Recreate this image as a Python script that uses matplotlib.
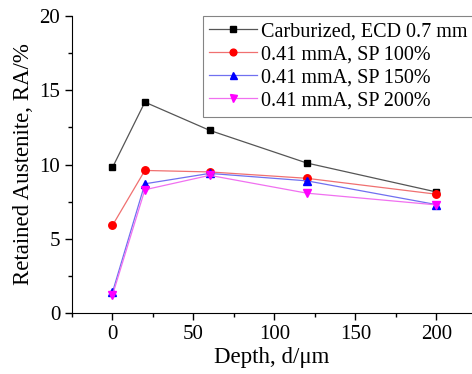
import matplotlib.pyplot as plt
from matplotlib.ticker import MultipleLocator

plt.rcParams['font.family'] = ['Liberation Serif', 'DejaVu Serif']

# depth (um) and retained austenite (%)
depth = [0, 20, 60, 120, 200]
carburized = [9.8, 14.2, 12.3, 10.1, 8.15]
sp100 = [5.9, 9.6, 9.5, 9.07, 8.0]
sp150 = [1.4, 8.7, 9.4, 8.9, 7.3]
sp200 = [1.2, 8.3, 9.27, 8.07, 7.28]
labels = ["Carburized, ECD 0.7 mm", "0.41 mmA, SP 100%",
          "0.41 mmA, SP 150%", "0.41 mmA, SP 200%"]

fig = plt.figure(figsize=(4.72, 3.74), dpi=100)
ax = fig.add_axes([72/472, 1-313/374, (472-72)/472, (313-16)/374])

ax.plot(depth, carburized, color='#555555', lw=0.9, marker='s', ms=4.6,
        mfc='black', mec='black', label=labels[0])
ax.plot(depth, sp100, color='#f07070', lw=0.9, marker='o', ms=5.4,
        mfc='red', mec='red', label=labels[1])
ax.plot(depth, sp150, color='#7070f0', lw=0.9, marker='^', ms=5.6,
        mfc='blue', mec='blue', label=labels[2])
ax.plot(depth, sp200, color='#f070f0', lw=0.9, marker='v', ms=5.6,
        mfc='magenta', mec='magenta', label=labels[3])

ax.set_xlim(-25, 222)
ax.set_ylim(0, 20)
ax.xaxis.set_major_locator(MultipleLocator(50))
ax.xaxis.set_minor_locator(MultipleLocator(25))
ax.yaxis.set_major_locator(MultipleLocator(5))
ax.yaxis.set_minor_locator(MultipleLocator(2.5))
ax.spines['top'].set_visible(False)
ax.spines['right'].set_visible(False)
ax.tick_params(which='major', direction='out', length=5, width=1, labelsize=15)
ax.tick_params(which='minor', direction='out', length=3, width=1)

ax.set_xlabel("Depth, d/\u03bcm", fontsize=16.5, labelpad=2)
ax.set_ylabel("Retained Austenite, RA/%", fontsize=16.5, labelpad=4)

leg = ax.legend(loc='upper left', bbox_to_anchor=(131/400, 1.0), fontsize=14.5,
                frameon=True, fancybox=False, edgecolor='#666666',
                handlelength=2.4, handletextpad=0.2, labelspacing=0.2,
                borderpad=0.3, borderaxespad=0, markerscale=0.9)
leg.get_frame().set_linewidth(0.8)

plt.savefig("out.png")
